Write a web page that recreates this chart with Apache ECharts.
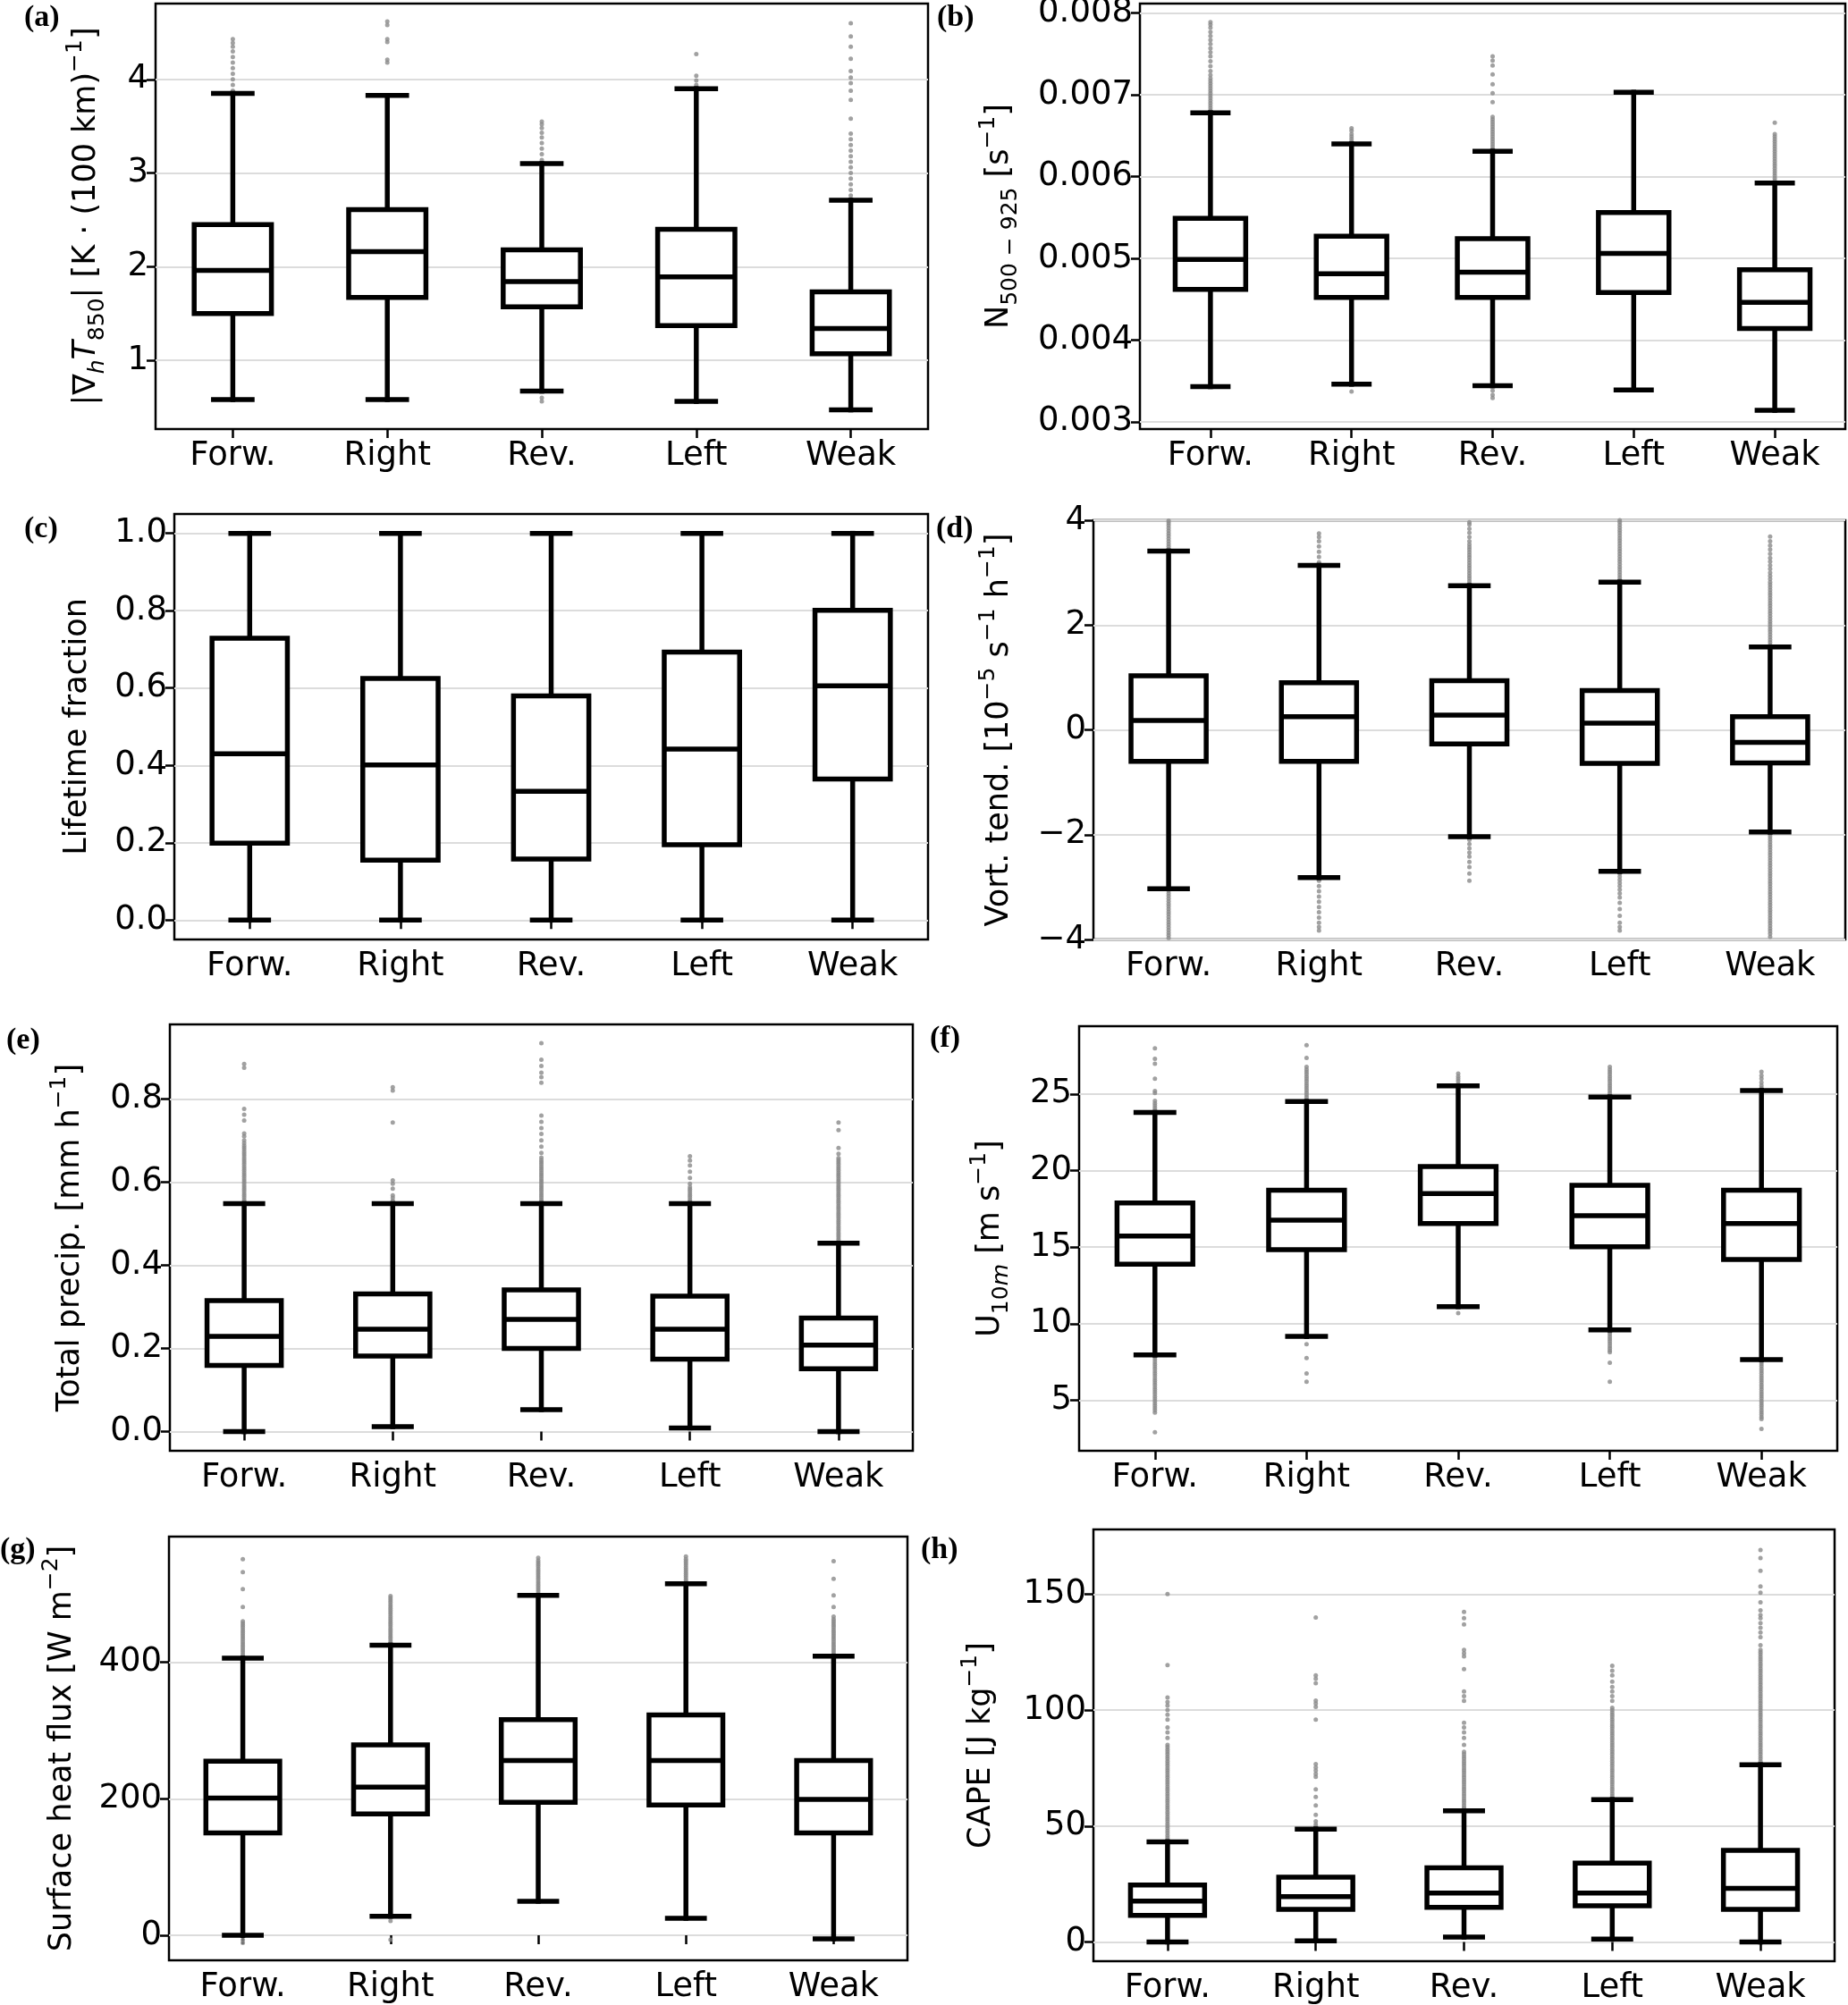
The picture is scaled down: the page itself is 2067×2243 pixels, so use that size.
<!DOCTYPE html>
<html><head><meta charset="utf-8">
<script src="https://cdn.jsdelivr.net/npm/echarts@6/dist/echarts.min.js"></script>
<style>html,body{margin:0;padding:0;background:#fff}#c{width:2067px;height:2243px}</style>
</head><body><div id="c"></div>
<script>
// ---------------- DATA ----------------
const categories = ['Forw.', 'Right', 'Rev.', 'Left', 'Weak'];

// box stats per category: [lower whisker, Q1, median, Q3, upper whisker]
const boxA = [[0.58,1.50,1.96,2.45,3.85],[0.58,1.67,2.16,2.61,3.83],[0.67,1.57,1.84,2.18,3.10],[0.56,1.37,1.89,2.40,3.90],[0.47,1.07,1.34,1.73,2.71]];
const boxB = [[0.00343,0.00462,0.004985,0.00549,0.00678],[0.00346,0.00452,0.00481,0.00527,0.00640],[0.00344,0.00452,0.00483,0.00524,0.00631],[0.00339,0.00458,0.00506,0.00556,0.00703],[0.00314,0.00414,0.00446,0.00486,0.00592]];
const boxC = [[0,0.199,0.430,0.729,1],[0,0.155,0.401,0.625,1],[0,0.158,0.333,0.580,1],[0,0.195,0.442,0.693,1],[0,0.365,0.606,0.801,1]];
const boxD = [[-3.03,-0.60,0.18,1.03,3.41],[-2.82,-0.60,0.25,0.90,3.14],[-2.04,-0.27,0.28,0.94,2.75],[-2.70,-0.64,0.13,0.75,2.82],[-1.95,-0.63,-0.24,0.25,1.58]];
const boxE = [[0.0,0.159,0.229,0.315,0.548],[0.012,0.182,0.246,0.331,0.548],[0.053,0.200,0.270,0.341,0.548],[0.009,0.174,0.246,0.326,0.548],[0.0,0.151,0.208,0.273,0.453]];
const boxF = [[7.96,13.88,15.73,17.89,23.79],[9.17,14.84,16.76,18.72,24.51],[11.11,16.54,18.50,20.27,25.53],[9.60,15.02,17.06,19.04,24.81],[7.66,14.20,16.54,18.72,25.23]];
const boxG = [[0,150,201,255,406],[28,178,217,279,425],[50,195,256,316,498],[25,191,256,323,515],[-5,150,199,256,409]];
const boxH = [[0,11.5,17.6,24.6,43.2],[0.5,14.1,19.6,27.9,48.7],[2.1,14.9,21.1,32.0,56.6],[1.2,15.6,21.1,34.0,61.4],[0,14.1,23.1,39.5,76.4]];

// outliers per category
const outA = [
  [3.88,3.94,4.00,4.06,4.12,4.18,4.24,4.30,4.35,4.39,4.43],
  [4.18,4.21,4.40,4.43,4.58,4.62],
  [3.14,3.20,3.26,3.32,3.38,3.43,3.48,3.52,3.55,0.60,0.56],
  [3.94,3.99,4.04,4.27],
  [2.76,2.82,2.88,2.94,3.00,3.06,3.12,3.18,3.24,3.30,3.36,3.42,3.58,3.78,3.88,3.96,4.02,4.09,4.22,4.35,4.46,4.60]
];
const outB = [
  [0.00681,0.00684,0.00687,0.00690,0.00693,0.00696,0.00699,0.00702,0.00705,0.00708,0.00711,0.00714,0.00717,0.00720,0.00724,0.00729,0.00735,0.00741,0.00747,0.00752,0.00757,0.00762,0.00767,0.00772,0.00777,0.00782,0.00786,0.00789],
  [0.00643,0.00646,0.00649,0.00652,0.00656,0.00659,0.00337],
  [0.00634,0.00637,0.00640,0.00643,0.00646,0.00649,0.00652,0.00655,0.00658,0.00661,0.00664,0.00667,0.00670,0.00673,0.00691,0.00702,0.00713,0.00725,0.00736,0.00742,0.00747,0.00338,0.00333,0.00329],
  [],
  [0.00595,0.00598,0.00601,0.00604,0.00607,0.00610,0.00613,0.00616,0.00619,0.00622,0.00625,0.00628,0.00631,0.00634,0.00637,0.00640,0.00643,0.00646,0.00649,0.00652,0.00666]
];
const outC = [[],[],[],[],[]];
const outD = [
  [3.45,3.50,3.55,3.60,3.65,3.70,3.75,3.80,3.85,3.90,3.95,3.99,-3.07,-3.12,-3.17,-3.22,-3.27,-3.32,-3.37,-3.42,-3.47,-3.52,-3.57,-3.62,-3.67,-3.72,-3.77,-3.82,-3.87,-3.92,-3.97],
  [3.20,3.30,3.40,3.50,3.60,3.68,3.75,-2.88,-2.98,-3.08,-3.18,-3.28,-3.38,-3.48,-3.58,-3.68,-3.76,-3.83],
  [2.79,2.84,2.89,2.94,2.99,3.04,3.09,3.14,3.19,3.24,3.29,3.34,3.39,3.44,3.49,3.54,3.60,3.68,3.76,3.84,3.92,3.96,-2.10,-2.18,-2.26,-2.34,-2.42,-2.52,-2.62,-2.74,-2.88],
  [2.86,2.91,2.96,3.01,3.06,3.11,3.16,3.21,3.26,3.31,3.36,3.41,3.46,3.51,3.56,3.61,3.66,3.71,3.76,3.81,3.86,3.91,3.96,4.00,-2.74,-2.80,-2.86,-2.92,-2.98,-3.05,-3.12,-3.20,-3.30,-3.42,-3.55,-3.68,-3.76,-3.83],
  [1.62,1.67,1.72,1.77,1.82,1.87,1.92,1.97,2.02,2.07,2.12,2.17,2.22,2.27,2.32,2.37,2.42,2.47,2.52,2.57,2.62,2.67,2.72,2.77,2.82,2.88,2.94,3.00,3.07,3.14,3.21,3.28,3.36,3.44,3.52,3.60,3.69,
   -1.99,-2.04,-2.09,-2.14,-2.19,-2.24,-2.29,-2.34,-2.39,-2.44,-2.49,-2.54,-2.59,-2.64,-2.69,-2.74,-2.79,-2.84,-2.89,-2.94,-2.99,-3.04,-3.09,-3.14,-3.19,-3.24,-3.29,-3.34,-3.39,-3.44,-3.49,-3.54,-3.59,-3.64,-3.69,-3.74,-3.79,-3.84,-3.89,-3.95]
];
const outE = [
  [0.553,0.558,0.563,0.568,0.573,0.578,0.583,0.588,0.593,0.598,0.603,0.608,0.613,0.618,0.623,0.628,0.633,0.638,0.643,0.648,0.653,0.658,0.663,0.668,0.673,0.678,0.683,0.688,0.694,0.700,0.710,0.717,0.748,0.762,0.776,0.875,0.884],
  [0.555,0.562,0.568,0.584,0.596,0.604,0.743,0.820,0.828],
  [0.553,0.558,0.563,0.568,0.573,0.578,0.583,0.588,0.593,0.598,0.603,0.608,0.613,0.618,0.623,0.628,0.633,0.638,0.643,0.648,0.653,0.659,0.670,0.685,0.700,0.716,0.730,0.745,0.760,0.839,0.852,0.863,0.879,0.894,0.934],
  [0.553,0.558,0.563,0.568,0.573,0.578,0.583,0.588,0.596,0.610,0.625,0.640,0.652,0.662],
  [0.458,0.463,0.468,0.473,0.478,0.483,0.488,0.493,0.498,0.503,0.508,0.513,0.518,0.523,0.528,0.533,0.538,0.543,0.548,0.553,0.558,0.563,0.568,0.573,0.578,0.583,0.588,0.593,0.598,0.603,0.608,0.613,0.618,0.623,0.628,0.633,0.638,0.643,0.648,0.653,0.658,0.668,0.682,0.725,0.743]
];
const outF = [
  [23.95,24.1,24.25,24.4,24.55,25.06,25.2,26.0,26.98,27.3,27.98,7.8,7.65,7.5,7.35,7.2,7.05,6.9,6.75,6.6,6.45,6.3,6.15,6.0,5.85,5.7,5.55,5.4,5.25,5.1,4.95,4.8,4.65,4.5,4.35,4.2,2.91],
  [24.65,24.8,24.95,25.1,25.25,25.4,25.55,25.7,25.85,26.0,26.15,26.3,26.45,26.6,26.77,27.36,28.19,8.66,7.75,6.75,6.21],
  [25.68,25.85,26.0,26.15,26.34,10.69],
  [24.95,25.1,25.25,25.4,25.55,25.7,25.85,26.0,26.15,26.3,26.45,26.6,26.77,9.45,9.3,9.15,9.0,8.85,8.7,8.55,8.4,8.25,8.13,7.45,6.21],
  [25.38,25.55,25.75,26.0,26.2,26.45,7.51,7.36,7.21,7.06,6.91,6.76,6.61,6.46,6.31,6.16,6.01,5.86,5.71,5.56,5.41,5.26,5.11,4.96,4.81,4.66,4.51,4.36,4.21,4.06,3.91,3.77,3.13]
];
const outG = [
  [409,412,415,418,421,424,427,430,433,436,439,442,445,448,451,454,457,460,481,507,532,551,-6.5,-11],
  [428,431,434,437,440,443,446,449,452,455,458,461,464,467,470,473,476,479,482,485,488,491,494,497,21,-6.5],
  [501,504,507,510,513,516,519,522,525,528,531,534,537,540,543,546,549,553],
  [518,521,524,527,530,533,536,539,542,545,548,551,555],
  [412,415,418,421,424,427,430,433,436,439,442,445,448,451,454,457,460,463,467,481,498,522,548]
];
const outH = [
  [44,45,46,47,48,49,50,51,52,53,54,55,56,57,58,59,60,61,62,63,64,65,66,67,68,69,70,71,72,73,74,75,76,77,78,79,80,81,82,83,84,85,88,90.4,92.5,95.9,98,100,102,103.5,105.4,119.4,150],
  [49.7,50.7,52,54.8,58.9,62.5,65.8,71.2,72.5,73.9,75.3,76.7,95.9,101.4,102.8,104.1,111.6,113.5,115,139.9],
  [58,59,60,61,62,63,64,65,66,67,68,69,70,71,72,73,74,75,76,77,78,79,80,81,82,85,88,90.4,92.5,94.5,104,106,108,117.7,123.2,124.5,126,136.9,139.6,142.3],
  [62,63,64,65,66,67,68,69,70,71,72,73,74,75,76,77,78,79,80,81,82,83,84,85,86,87,88,89,90,91,92,93,94,95,96,97,98,99,100,101,104,106,108,110,112.3,115,117,119.1],
  [77,78,79,80,81,82,83,84,85,86,87,88,89,90,91,92,93,94,95,96,97,98,99,100,101,102,103,104,105,106,107,108,109,110,111,112,113,114,115,116,117,118,119,120,121,122,123,124,125,126,128,131.4,133.5,135.5,137.5,139.6,141,143,146.5,150.6,153.3,160.1,165.6,169]
];

// y tick values
const ticksA = [1,2,3,4];
const ticksB = [0.003,0.004,0.005,0.006,0.007,0.008];
const ticksC = [0,0.2,0.4,0.6,0.8,1.0];
const ticksD = [-4,-2,0,2,4];
const ticksE = [0,0.2,0.4,0.6,0.8];
const ticksF = [5,10,15,20,25];
const ticksG = [0,200,400];
const ticksH = [0,50,100,150];

// y titles (rich text)
const titleA = '|∇{itsub|h}{it|T}{sub|850}| [K · (100 km){sup|−1}]';
const titleB = 'N{sub|500 − 925} [s{sup|−1}]';
const titleC = 'Lifetime fraction';
const titleD = 'Vort. tend. [10{sup|−5} s{sup|−1} h{sup|−1}]';
const titleE = 'Total precip. [mm h{sup|−1}]';
const titleF = 'U{sub|10}{itsub|m} [m s{sup|−1}]';
const titleG = 'Surface heat flux [W m{sup|−2}]';
const titleH = 'CAPE [J kg{sup|−1}]';

// ---------------- LAYOUT / STYLE ----------------
const FONT = "'DejaVu Sans', sans-serif";
const TICK_FS = 37;
const LW = 5.5;
const fmtDefault = v => String(v).replace('-', '−');
const fmt1 = v => v.toFixed(1);
const fmt3 = v => v.toFixed(3);

const panels = [
  {box: boxA, out: outA, ticks: ticksA, min: 0.265, max: 4.81, title: titleA, fmt: fmtDefault, grid: {left:174, top:4, width:864, height:476}, gap: 52, label: ['(a)', 27, 3]},
  {box: boxB, out: outB, ticks: ticksB, min: 0.002911, max: 0.008116, title: titleB, fmt: fmt3, grid: {left:1275, top:4, width:789, height:476}, gap: 132, label: ['(b)', 1048, 3]},
  {box: boxC, out: outC, ticks: ticksC, min: -0.05, max: 1.05, title: titleC, fmt: fmt1, grid: {left:195, top:575, width:843, height:476}, gap: 83, label: ['(c)', 27, 575]},
  {box: boxD, out: outD, ticks: ticksD, min: -4, max: 4, title: titleD, fmt: fmtDefault, grid: {left:1223, top:582, width:841, height:469}, gap: 80, label: ['(d)', 1047, 575]},
  {box: boxE, out: outE, ticks: ticksE, min: -0.046, max: 0.979, title: titleE, fmt: fmt1, grid: {left:190, top:1146, width:831, height:477}, gap: 86, label: ['(e)', 7, 1147]},
  {box: boxF, out: outF, ticks: ticksF, min: 1.70, max: 29.43, title: titleF, fmt: fmtDefault, grid: {left:1207, top:1148, width:848, height:475}, gap: 74, label: ['(f)', 1040, 1145]},
  {box: boxG, out: outG, ticks: ticksG, min: -36.5, max: 584, title: titleG, fmt: fmtDefault, grid: {left:189, top:1719, width:826, height:474}, gap: 94, label: ['(g)', 0, 1717]},
  {box: boxH, out: outH, ticks: ticksH, min: -8.3, max: 177.9, title: titleH, fmt: fmtDefault, grid: {left:1223, top:1711, width:829, height:483}, gap: 100, label: ['(h)', 1030, 1717]}
];

const RICH = {
  sub:   {fontFamily: FONT, fontSize: 25, lineHeight: 25, verticalAlign: 'bottom', color: '#000'},
  sup:   {fontFamily: FONT, fontSize: 25, lineHeight: 25, verticalAlign: 'top', color: '#000'},
  it:    {fontFamily: FONT, fontStyle: 'italic', fontSize: 35, lineHeight: 50, color: '#000'},
  itsub: {fontFamily: FONT, fontStyle: 'italic', fontSize: 25, lineHeight: 25, verticalAlign: 'bottom', color: '#000'}
};

function renderBox(params, api) {
  const c = api.value(0);
  const x = api.coord([c, 0])[0];
  const band = api.size([1, 0])[0];
  const hw = band * 0.25, cw = band * 0.125;
  const y = i => api.coord([c, api.value(i)])[1];
  const lo = y(1), q1 = y(2), md = y(3), q3 = y(4), hi = y(5);
  const st = {stroke: '#000', lineWidth: LW, fill: null, lineCap: 'square'};
  return {type: 'group', children: [
    {type: 'line', shape: {x1: x, y1: q1, x2: x, y2: lo}, style: st},
    {type: 'line', shape: {x1: x, y1: q3, x2: x, y2: hi}, style: st},
    {type: 'line', shape: {x1: x - cw, y1: lo, x2: x + cw, y2: lo}, style: st},
    {type: 'line', shape: {x1: x - cw, y1: hi, x2: x + cw, y2: hi}, style: st},
    {type: 'rect', shape: {x: x - hw, y: q3, width: 2 * hw, height: q1 - q3}, style: {stroke: '#000', lineWidth: LW, fill: '#fff', lineJoin: 'miter'}},
    {type: 'line', shape: {x1: x - hw, y1: md, x2: x + hw, y2: md}, style: {stroke: '#000', lineWidth: LW, lineCap: 'butt'}}
  ]};
}

const option = {animation: false, backgroundColor: '#fff', grid: [], xAxis: [], yAxis: [], series: [], graphic: []};

panels.forEach((p, k) => {
  option.grid.push(Object.assign({show: true, borderColor: '#000', borderWidth: 2.5, backgroundColor: 'transparent', outerBoundsMode: 'none', containLabel: false}, p.grid));
  option.xAxis.push({
    type: 'category', gridIndex: k, data: categories, boundaryGap: true,
    axisLine: {show: false},
    axisTick: {show: true, alignWithLabel: true, interval: 0, length: 10, lineStyle: {color: '#000', width: 2.5}},
    axisLabel: {interval: 0, margin: 12, color: '#000', fontSize: TICK_FS, fontFamily: FONT},
    splitLine: {show: false}
  });
  option.yAxis.push({
    type: 'value', gridIndex: k, min: p.min, max: p.max, scale: true,
    axisLine: {show: false},
    axisTick: {show: true, length: 10, customValues: p.ticks, lineStyle: {color: '#000', width: 2.5}},
    axisLabel: {customValues: p.ticks, margin: 8, color: '#000', fontSize: TICK_FS, fontFamily: FONT, formatter: p.fmt, showMinLabel: true, showMaxLabel: true},
    splitLine: {show: true, lineStyle: {color: '#dcdcdc', width: 2}},
    name: p.title, nameLocation: 'middle', nameGap: p.gap, nameRotate: 90, nameMoveOverlap: false,
    nameTextStyle: {fontFamily: FONT, fontSize: 35, lineHeight: 50, color: '#000', rich: RICH}
  });
  const pts = [];
  p.out.forEach((arr, i) => arr.forEach(v => pts.push([i, v])));
  option.series.push({
    type: 'scatter', xAxisIndex: k, yAxisIndex: k, data: pts, symbol: 'circle', symbolSize: 5, z: 2,
    itemStyle: {color: '#8a8a8a'}, silent: true
  });
  option.series.push({
    type: 'custom', xAxisIndex: k, yAxisIndex: k, z: 3, silent: true,
    data: p.box.map((b, i) => [i].concat(b)),
    encode: {x: 0, y: [1, 2, 3, 4, 5]},
    renderItem: renderBox
  });
  option.graphic.push({
    type: 'text', left: p.label[1], top: p.label[2], z: 10,
    style: {text: p.label[0], font: "bold 34px 'Liberation Serif', 'Times New Roman', serif", fill: '#000'}
  });
});

const chart = echarts.init(document.getElementById('c'), null, {renderer: 'canvas', width: 2067, height: 2243});
chart.setOption(option);
</script>
</body></html>
